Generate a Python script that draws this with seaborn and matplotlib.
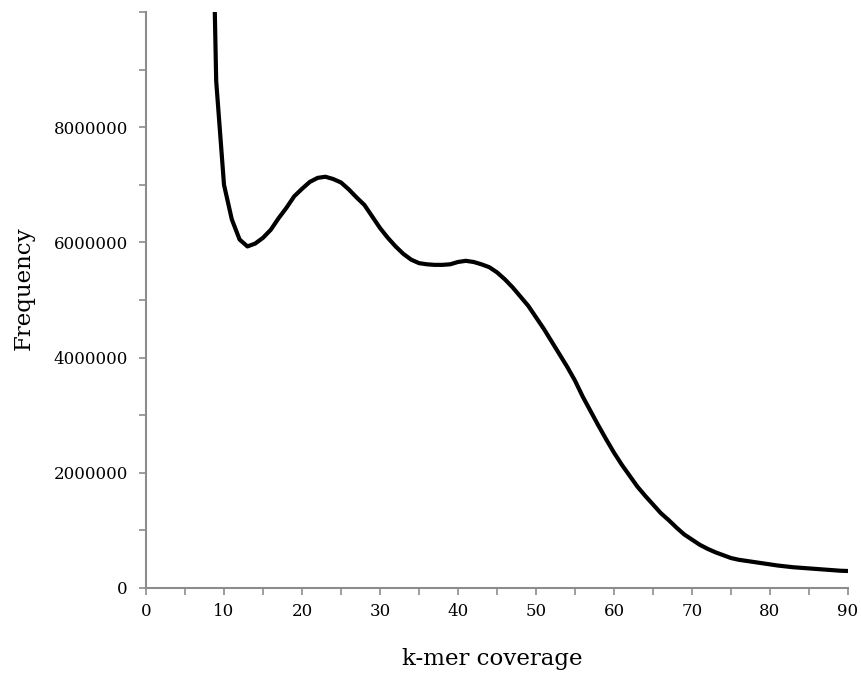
import matplotlib
matplotlib.use("Agg")
import matplotlib.pyplot as plt
import matplotlib.ticker as mticker
import numpy as np
import pandas as pd
import seaborn as sns

# k-mer coverage histogram
coverage = list(range(8, 91))
frequency = [
    15500000, 8800000, 7000000, 6400000, 6050000, 5930000, 5980000, 6080000,   # 8-15
    6220000, 6420000, 6600000, 6800000, 6930000, 7050000, 7120000, 7140000,    # 16-23
    7100000, 7040000, 6920000, 6780000, 6650000, 6450000, 6250000, 6080000,    # 24-31
    5930000, 5800000, 5700000, 5640000, 5620000, 5610000, 5610000, 5620000,    # 32-39
    5660000, 5680000, 5660000, 5620000, 5570000, 5480000, 5360000, 5220000,    # 40-47
    5060000, 4900000, 4700000, 4500000, 4280000, 4060000, 3840000, 3600000,    # 48-55
    3320000, 3070000, 2820000, 2580000, 2350000, 2140000, 1950000, 1760000,    # 56-63
    1600000, 1450000, 1300000, 1180000, 1050000, 930000, 840000, 750000,       # 64-71
    680000, 620000, 570000, 520000, 490000, 470000, 450000, 430000,            # 72-79
    410000, 390000, 375000, 360000, 350000, 340000, 330000, 320000,            # 80-87
    310000, 300000, 295000,                                                    # 88-90
]

df = pd.DataFrame({"coverage": coverage, "frequency": frequency})

sns.set_style("ticks")
plt.rcParams["font.family"] = ["DejaVu Serif"]

fig = plt.figure(figsize=(8.61, 6.73), dpi=100)
ax = fig.add_axes([146 / 861, 1 - 588 / 673, (848 - 146) / 861, (588 - 12) / 673])

sns.lineplot(data=df, x="coverage", y="frequency", color="black", linewidth=3,
             ax=ax, solid_capstyle="butt", solid_joinstyle="round")

ax.set_xlim(0, 90)
ax.set_ylim(0, 10000000)

ax.xaxis.set_major_locator(mticker.MultipleLocator(10))
ax.xaxis.set_minor_locator(mticker.MultipleLocator(5))
ax.yaxis.set_major_locator(mticker.MultipleLocator(2000000))
ax.yaxis.set_minor_locator(mticker.MultipleLocator(1000000))
ax.yaxis.set_major_formatter(mticker.FuncFormatter(lambda v, p: "%d" % v))
ax.set_yticks([0, 2000000, 4000000, 6000000, 8000000])

grey = "#8c8c8c"
for s in ["top", "right"]:
    ax.spines[s].set_visible(False)
for s in ["left", "bottom"]:
    ax.spines[s].set_color(grey)
    ax.spines[s].set_linewidth(1.5)

ax.tick_params(which="both", direction="out", length=5, width=1.2, color=grey,
               labelsize=12, labelcolor="black")
ax.tick_params(axis="x", pad=6)
ax.tick_params(axis="y", pad=8)

ax.set_xlabel("k-mer coverage", fontsize=16.5, color="black")
ax.set_ylabel("Frequency", fontsize=16.5, color="black")
ax.xaxis.set_label_coords(0.493, -0.104)
ax.yaxis.set_label_coords(-0.158, 0.521)

fig.savefig("out.png", dpi=100)
